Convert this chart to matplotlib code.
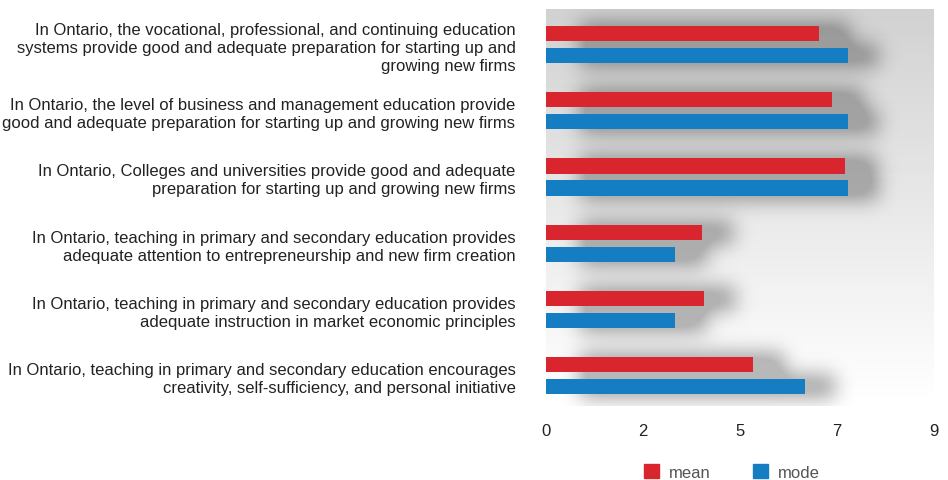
import numpy as np
import matplotlib
matplotlib.use('Agg')
import matplotlib.pyplot as plt
from matplotlib.patches import Patch

plt.rcParams['font.family'] = ['Liberation Sans', 'DejaVu Sans']

categories = [
    'In Ontario, the vocational, professional, and continuing education\n'
    'systems provide good and adequate preparation for starting up and\n'
    'growing new firms',
    'In Ontario, the level of business and management education provide\n'
    'good and adequate preparation for starting up and growing new firms',
    'In Ontario, Colleges and universities provide good and adequate\n'
    'preparation for starting up and growing new firms',
    'In Ontario, teaching in primary and secondary education provides\n'
    'adequate attention to entrepreneurship and new firm creation',
    'In Ontario, teaching in primary and secondary education provides\n'
    'adequate instruction in market economic principles',
    'In Ontario, teaching in primary and secondary education encourages\n'
    'creativity, self-sufficiency, and personal initiative',
]
mean_vals = [6.33, 6.63, 6.94, 3.62, 3.67, 4.80]
mode_vals = [7, 7, 7, 3, 3, 6]
tick_vals = [0, 2.25, 4.5, 6.75, 9]
tick_labels = ['0', '2', '5', '7', '9']

red = '#d9252e'
blue = '#157dc2'
bar_h = 0.23
off = 0.166
x_max = 9
y_top, y_bot = -0.536, 5.457


def blur(img, sigma):
    r = int(3 * sigma)
    k = np.exp(-0.5 * (np.arange(-r, r + 1) / sigma) ** 2)
    k /= k.sum()
    pad = np.pad(img, r, mode='constant')
    out = np.apply_along_axis(lambda v: np.convolve(v, k, mode='same'), 1, pad)
    out = np.apply_along_axis(lambda v: np.convolve(v, k, mode='same'), 0, out)
    return out[r:-r, r:-r]


fig = plt.figure(figsize=(9.48, 4.81), dpi=100)
ax = fig.add_axes([546 / 948, 1 - 407 / 481, 388 / 948, 397 / 481])

# background gradient
W, H = 388, 397
grad = np.linspace(0.82, 1.0, H)[:, None] * np.ones((1, W))
ax.imshow(grad, extent=[0, x_max, y_bot, y_top], aspect='auto', cmap='gray',
          vmin=0, vmax=1, zorder=0, interpolation='bilinear')

# soft drop shadows built from the bar values
xs = np.linspace(0, x_max, W)[None, :]
ys = np.linspace(y_top, y_bot, H)[:, None]
sx, sy = 0.72, 0.0
mask = np.zeros((H, W))
for i in range(len(categories)):
    for v, d in ((mean_vals[i], -off), (mode_vals[i], off)):
        m = (xs >= sx + 0.05) & (xs <= v + sx) & (np.abs(ys - (i + d + sy)) <= bar_h / 2 + 0.06)
        mask = np.maximum(mask, m.astype(float))
shadow = blur(mask, 10)
rgba = np.zeros((H, W, 4))
rgba[..., 3] = 0.27 * np.clip(shadow * 1.4, 0, 1)
ax.imshow(rgba, extent=[0, x_max, y_bot, y_top], aspect='auto', zorder=1,
          interpolation='bilinear')

y = np.arange(len(categories))
ax.barh(y - off, mean_vals, height=bar_h, color=red, zorder=2)
ax.barh(y + off, mode_vals, height=bar_h, color=blue, zorder=2)

ax.set_xlim(0, x_max)
ax.set_ylim(y_bot, y_top)
ax.set_xticks(tick_vals)
ax.set_xticklabels(tick_labels)
ax.set_yticks(y)
ax.set_yticklabels(categories, linespacing=1.25)
ax.tick_params(axis='x', length=0, pad=12, labelsize=12, labelcolor='#222222')
ax.tick_params(axis='y', length=0, pad=22, labelsize=12, labelcolor='#222222')
for s in ax.spines.values():
    s.set_visible(False)

handles = [Patch(color=red, label='mean'), Patch(color=blue, label='mode')]
fig.legend(handles=handles, loc='center', bbox_to_anchor=(0.772, 0.017), ncol=2,
           frameon=False, fontsize=12, labelcolor='#555555', handlelength=0.9,
           handleheight=0.9, handletextpad=0.6, columnspacing=2.5)

fig.savefig('out.png', dpi=100)
